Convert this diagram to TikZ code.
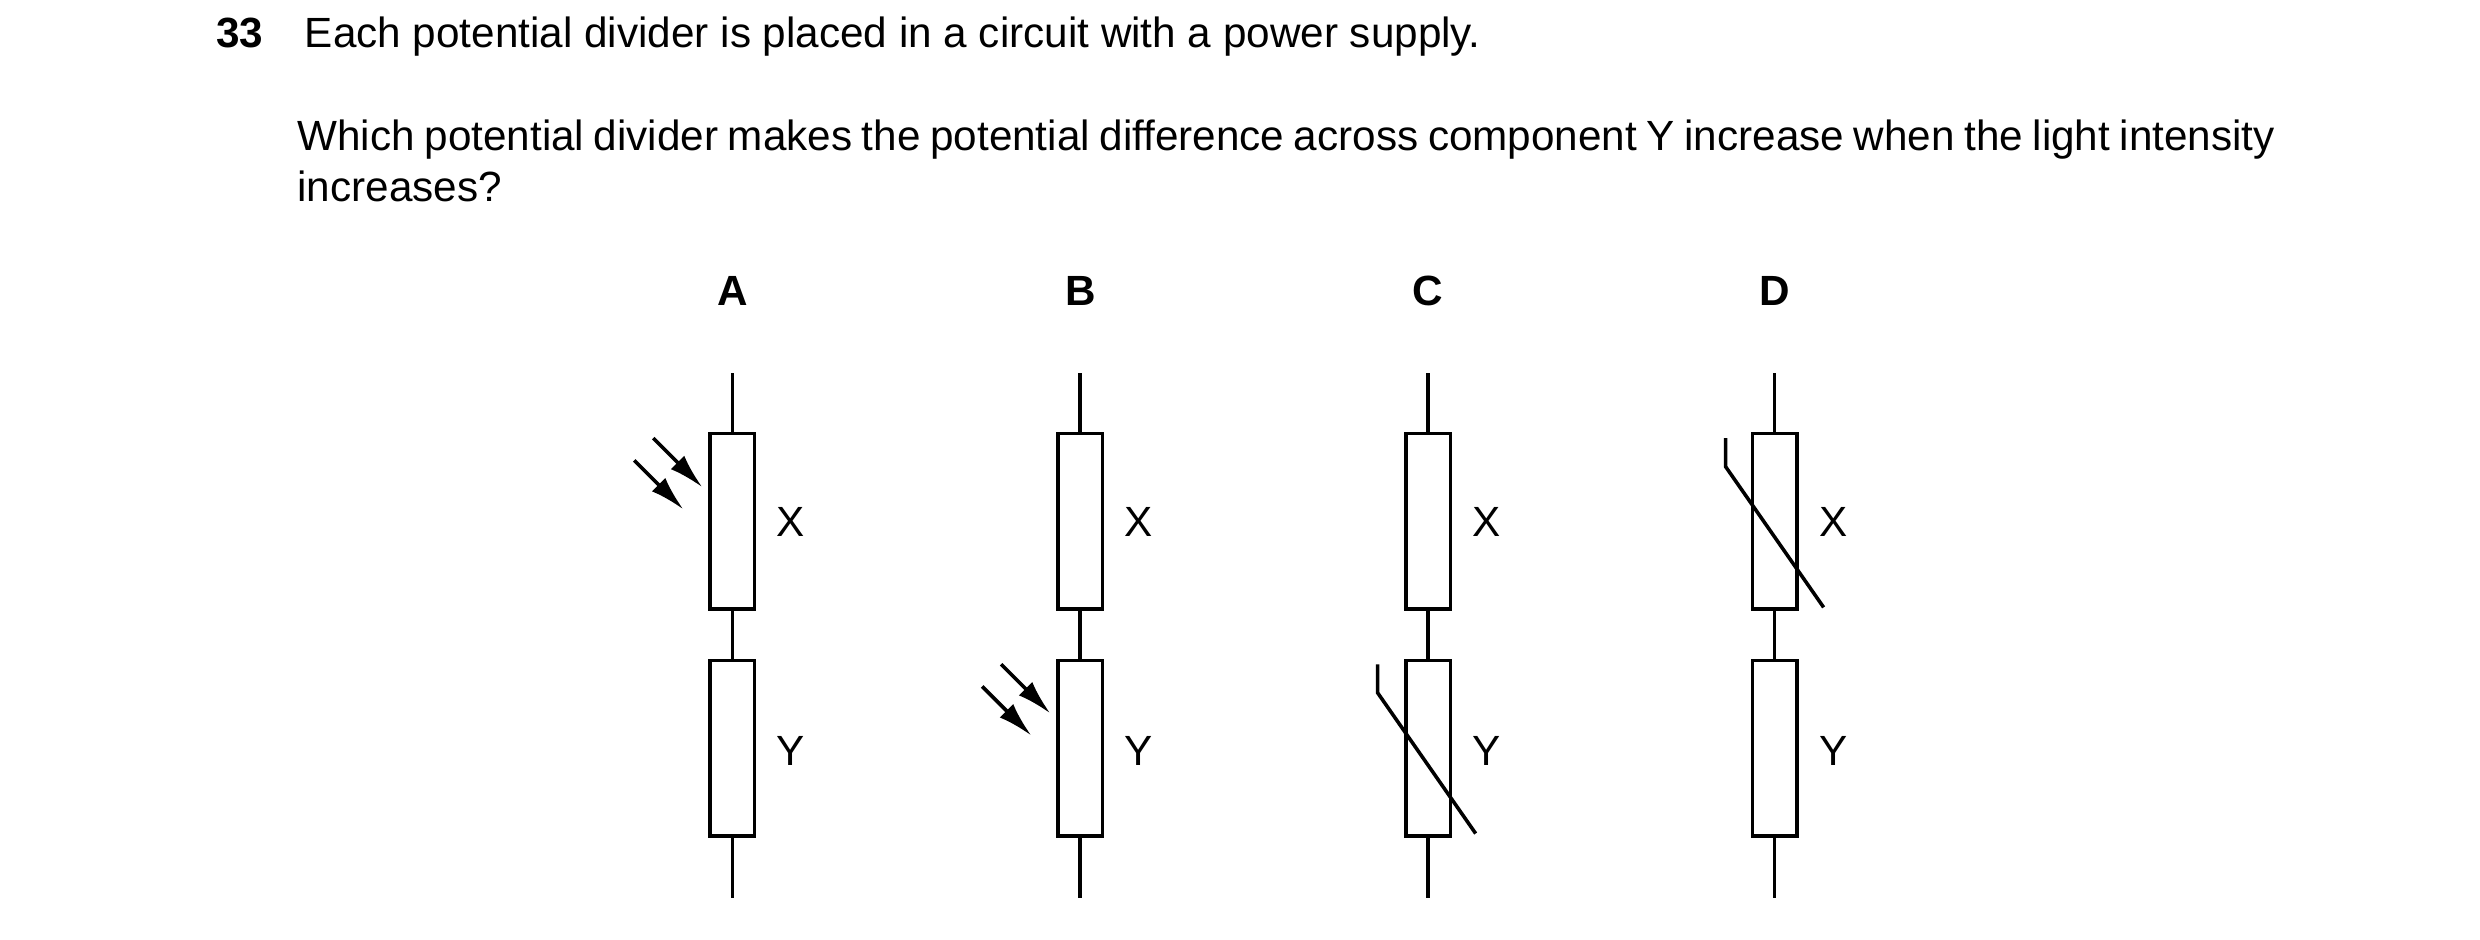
\documentclass[tikz,border=0pt]{standalone}
\usepackage{fontspec}
\setmainfont{Liberation Sans}
\usetikzlibrary{arrows.meta}
\begin{document}
\begin{tikzpicture}[x=0.025cm,y=-0.025cm,line width=1.6pt,
    res/.style={draw,rectangle,minimum width=0.7cm,minimum height=2.775cm,inner sep=0pt},
    lab/.style={font=\fontsize{19}{23}\selectfont},
    head/.style={font=\fontsize{19}{23}\selectfont\bfseries},
    light/.style={-{Latex[length=0.55cm,width=0.3cm]}}]
  \useasboundingbox (0,0) rectangle (1568,594);

  % question
  \node[head,anchor=base west] (num) at (131,30) {33};
  \node[lab,anchor=base west] (q1) at (187,30) {Each potential divider is placed in a circuit with a power supply.};
  \node[lab,anchor=base west,text width=31.25cm,align=justify,inner sep=0pt] (q2) at (187,95)
    {Which potential divider makes the potential difference across component~Y increase when the light intensity increases?};

  % four dividers
  \foreach \name/\cx in {A/463,B/683,C/903,D/1122} {
    \node[head] (l\name) at (\cx,184) {\name};
    \coordinate (t\name) at (\cx,236);
    \coordinate (b\name) at (\cx,568);
    \node[res] (x\name) at (\cx,329.5) {};
    \node[res] (y\name) at (\cx,473) {};
    \node[lab] (lx\name) at (\cx+37,330) {X};
    \node[lab] (ly\name) at (\cx+37,475) {Y};
    \draw (t\name) -- (x\name.north);
    \draw (x\name.south) -- (y\name.north);
    \draw (y\name.south) -- (b\name);
  }

  % light arrows
  \draw[light] (413,277) -- (444,308);
  \draw[light] (401,291) -- (432,322);
  \draw[light] (633,420) -- (664,451);
  \draw[light] (621,434) -- (652,465);

  % thermistor marks
  \draw (871,420) -- (871,438) -- (933,527);
  \draw (1091,277) -- (1091,295) -- (1153,384);
\end{tikzpicture}
\end{document}
